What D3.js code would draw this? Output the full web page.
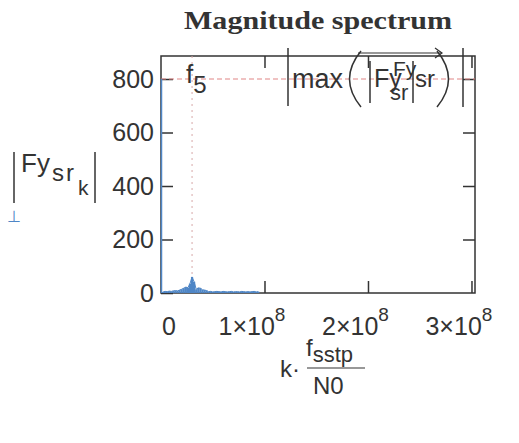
<!DOCTYPE html>
<html>
<head>
<meta charset="utf-8">
<script src="https://cdn.jsdelivr.net/npm/d3@7"></script>
<style>
    body { margin: 0; background: #fff; }
    text { font-family: "Liberation Sans", Arial, sans-serif; fill: #333; }
</style>
</head>
<body>
<div id="graph"></div>
<script>
// spectrum bins, step 2e6 Hz
var binStep = 2e6;
var magnitudes = [800, 4, 6, 5, 7, 6, 8, 9, 8, 11, 14, 18, 22, 20, 35, 60, 42, 14, 19, 18, 12, 11, 9,
    5, 6, 4, 5, 6, 5, 4, 6, 5, 4, 5, 6, 4, 5, 5, 4, 6, 5, 4, 5, 4, 5, 6, 4, 5];
var yTicks = [0, 200, 400, 600, 800];
var xTicks = [0, 1e8, 2e8, 3e8];
var xTickMantissa = ["0", "1\u00d710", "2\u00d710", "3\u00d710"];
var xTickExp = ["", "8", "8", "8"];
var f5 = 3.0e7;

document.addEventListener('DOMContentLoaded', main);

function main() {
    var svg = d3.select("#graph")
        .append("svg")
            .attr("width", 519)
            .attr("height", 443);

    var left = 161, right = 475, top = 56, bottom = 293;

    var x = d3.scaleLinear().domain([0, 3.034e8]).range([left, right]);
    var y = d3.scaleLinear().domain([0, 886]).range([bottom, top]);

    // title, centred over the plot box
    svg.append("text")
        .attr("x", (left + right) / 2)
        .attr("y", 29)
        .attr("text-anchor", "middle")
        .attr("textLength", 268)
        .attr("lengthAdjust", "spacingAndGlyphs")
        .style("font-family", "'Liberation Serif', 'Times New Roman', serif")
        .style("font-weight", "bold")
        .style("font-size", "26px")
        .text("Magnitude spectrum");

    // frame
    svg.append("rect")
        .attr("x", left)
        .attr("y", top)
        .attr("width", right - left)
        .attr("height", bottom - top)
        .attr("fill", "none")
        .attr("stroke", "#333")
        .attr("stroke-width", 1.5);

    // axes (inward ticks)
    var yAxis = svg.append("g")
        .attr("transform", "translate(" + left + ",0)")
        .call(d3.axisLeft(y).tickValues(yTicks).tickSize(-12).tickPadding(7).tickFormat(d3.format("d")));
    yAxis.select(".domain").remove();
    yAxis.selectAll("text")
        .style("font-size", "25px")
        .attr("fill", "#333");

    var yAxisR = svg.append("g")
        .attr("transform", "translate(" + right + ",0)")
        .call(d3.axisRight(y).tickValues(yTicks.slice(1)).tickSize(-12).tickFormat(""));
    yAxisR.select(".domain").remove();

    var xAxis = svg.append("g")
        .attr("transform", "translate(0," + bottom + ")")
        .call(d3.axisBottom(x).tickValues(xTicks.slice(1)).tickSize(-12).tickFormat(""));
    xAxis.select(".domain").remove();

    var xAxisT = svg.append("g")
        .attr("transform", "translate(0," + top + ")")
        .call(d3.axisTop(x).tickValues(xTicks.slice(1)).tickSize(-12).tickFormat(""));
    xAxisT.select(".domain").remove();

    svg.selectAll(".tick line")
        .attr("stroke", "#333")
        .attr("stroke-width", 1.5);

    // x tick labels, mathcad style
    xTicks.forEach(function (v, i) {
        var t = svg.append("text")
            .attr("y", 335)
            .style("font-size", "25px");
        if (i === 0) {
            t.attr("x", x(v) + 8).attr("text-anchor", "middle").text(xTickMantissa[i]);
        } else {
            t.attr("x", x(v) - 46).text(xTickMantissa[i]);
            t.append("tspan")
                .attr("dy", -14)
                .style("font-size", "19px")
                .text(xTickExp[i]);
        }
    });

    // marker lines
    var maxVal = d3.max(magnitudes);
    svg.append("line")
        .attr("x1", left)
        .attr("x2", right)
        .attr("y1", y(maxVal))
        .attr("y2", y(maxVal))
        .attr("stroke", "#e08585")
        .attr("stroke-width", 1)
        .attr("stroke-dasharray", "5,3");

    svg.append("line")
        .attr("x1", x(f5))
        .attr("x2", x(f5))
        .attr("y1", top)
        .attr("y2", bottom)
        .attr("stroke", "#d8a8a8")
        .attr("stroke-width", 1)
        .attr("stroke-dasharray", "2,4");

    // spectrum stems
    svg.selectAll(".stem")
        .data(magnitudes)
        .enter().append("line")
        .attr("class", "stem")
        .attr("x1", function (d, i) { return x(i * binStep) + (i === 0 ? 0.5 : 0); })
        .attr("x2", function (d, i) { return x(i * binStep) + (i === 0 ? 0.5 : 0); })
        .attr("y1", y(0))
        .attr("y2", function (d) { return y(d); })
        .attr("stroke", "#4f86c6")
        .attr("stroke-width", function (d, i) { return i === 0 ? 1.5 : 2.2; });

    svg.append("path")
        .datum(magnitudes.slice(1))
        .attr("fill", "none")
        .attr("stroke", "#4f86c6")
        .attr("stroke-width", 1)
        .attr("d", d3.line()
            .x(function (d, i) { return x((i + 1) * binStep); })
            .y(function (d) { return y(d); }));

    // marker labels
    var f5Label = svg.append("text")
        .attr("x", 186)
        .attr("y", 83)
        .style("font-size", "26px")
        .text("f");
    f5Label.append("tspan")
        .attr("dy", 10)
        .style("font-size", "24px")
        .text("5");

    var bar = function (xp, y1, y2) {
        svg.append("line")
            .attr("x1", xp).attr("x2", xp)
            .attr("y1", y1).attr("y2", y2)
            .attr("stroke", "#333")
            .attr("stroke-width", 1.5);
    };
    bar(288, 48, 106);
    bar(370, 61, 103);
    bar(413, 61, 103);
    bar(463, 48, 107);

    svg.append("text").attr("x", 292).attr("y", 88).style("font-size", "27px").text("max");
    // thin parentheses
    svg.append("path")
        .attr("d", "M361,51 Q338,79 361,107")
        .attr("fill", "none").attr("stroke", "#333").attr("stroke-width", 1.5);
    svg.append("path")
        .attr("d", "M437,51 Q460,79 437,107")
        .attr("fill", "none").attr("stroke", "#333").attr("stroke-width", 1.5);
    svg.append("text").attr("x", 374).attr("y", 87).style("font-size", "25px").text("Fy");
    svg.append("text").attr("x", 393).attr("y", 76).style("font-size", "21px").text("Fy");
    svg.append("text").attr("x", 390).attr("y", 100).style("font-size", "22px").text("sr");
    svg.append("text").attr("x", 415).attr("y", 87).style("font-size", "24px").text("sr");

    // vector arrow over the argument
    svg.append("line")
        .attr("x1", 358).attr("x2", 442)
        .attr("y1", 53).attr("y2", 53)
        .attr("stroke", "#333")
        .attr("stroke-width", 1.2);
    svg.append("path")
        .attr("d", "M435,48 L442,53 L435,58")
        .attr("fill", "none")
        .attr("stroke", "#333")
        .attr("stroke-width", 1.2);

    // y axis title |Fy_sr_k|
    svg.append("line").attr("x1", 14).attr("x2", 14).attr("y1", 152).attr("y2", 203)
        .attr("stroke", "#333").attr("stroke-width", 1.5);
    svg.append("line").attr("x1", 95).attr("x2", 95).attr("y1", 152).attr("y2", 203)
        .attr("stroke", "#333").attr("stroke-width", 1.5);
    var yTitle = svg.append("text")
        .attr("x", 21)
        .attr("y", 172)
        .style("font-size", "26px")
        .text("Fy");
    yTitle.append("tspan").attr("x", 52).attr("dy", 9).style("font-size", "24px")
        .style("letter-spacing", "2px").text("sr");
    yTitle.append("tspan").attr("x", 78).attr("dy", 14).style("font-size", "21px").text("k");

    svg.append("text")
        .attr("x", 7)
        .attr("y", 222)
        .style("font-size", "16px")
        .style("fill", "#4f86c6")
        .text("\u22a5");

    // x axis title k * f_sstp / N0
    svg.append("text").attr("x", 280).attr("y", 377).style("font-size", "24px").text("k\u00b7");
    var num = svg.append("text").attr("x", 306).attr("y", 356).style("font-size", "24px").text("f");
    num.append("tspan").attr("dy", 6).style("font-size", "22px").text("sstp");
    svg.append("line").attr("x1", 307).attr("x2", 365).attr("y1", 368).attr("y2", 368)
        .attr("stroke", "#333").attr("stroke-width", 1.2);
    svg.append("text").attr("x", 313).attr("y", 394).style("font-size", "24px").text("N0");
}
</script>
</body>
</html>
